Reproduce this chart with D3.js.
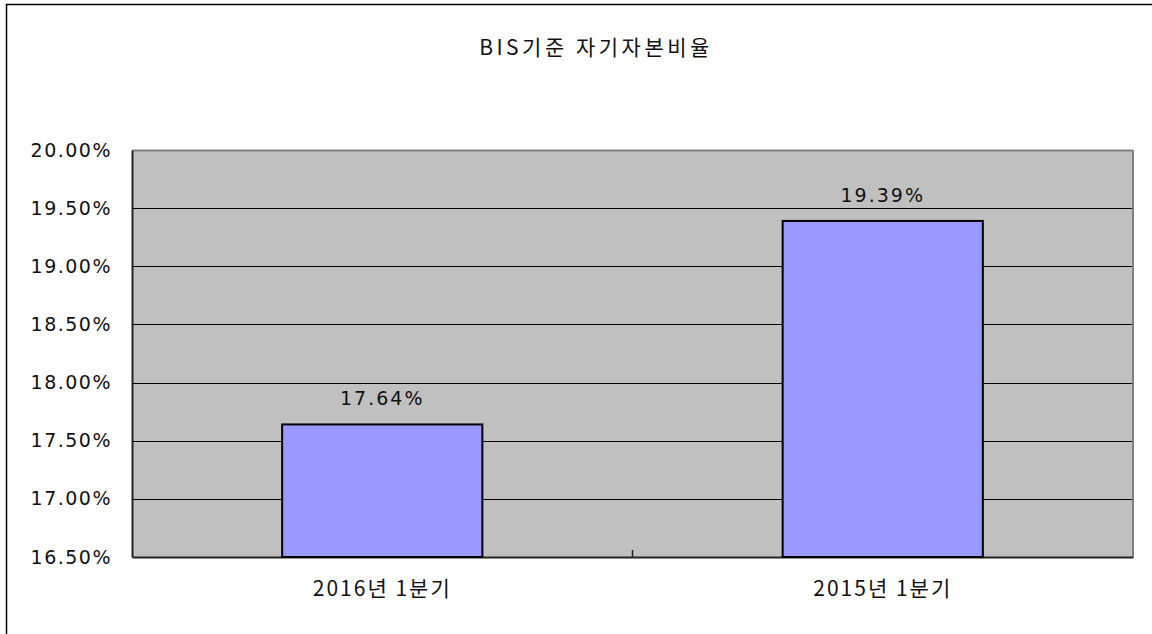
<!DOCTYPE html>
<html>
<head>
<meta charset="utf-8">
<script src="https://cdn.jsdelivr.net/npm/d3@7"></script>
<style>
	body { margin: 0; background: #fff; }
	svg text { font-family: "DejaVu Sans", "Noto Sans CJK KR", sans-serif; fill: #111; letter-spacing: 1.5px; }
	svg text.kr { font-family: "Noto Sans CJK KR", sans-serif; }
</style>
</head>
<body>
<div id="chart"></div>
<script>
const title = 'BIS기준 자기자본비율';
const categories = ['2016년 1분기', '2015년 1분기'];
const values = [17.64, 19.39];
const yTicks = [16.5, 17, 17.5, 18, 18.5, 19, 19.5, 20];

function drawChart() {
	const W = 1152, H = 634;
	const plot = { left: 132, top: 150, right: 1133, bottom: 557 };
	const fs = '19px';

	const svg = d3.select('#chart').append('svg').attr('width', W).attr('height', H);

	// outer frame
	svg.append('rect').attr('x', 6.5).attr('y', 4.5).attr('width', W).attr('height', H)
		.attr('fill', 'none').attr('stroke', '#000').attr('stroke-width', 1.5);

	svg.append('text').attr('class', 'kr').attr('x', 596).attr('y', 55).attr('text-anchor', 'middle')
		.style('font-size', '21px').style('letter-spacing', '3.5px').text(title);

	const xScale = d3.scaleBand().domain(categories).range([plot.left, plot.right]).paddingInner(0.6).paddingOuter(0.3);
	const yScale = d3.scaleLinear().domain([16.5, 20]).range([plot.bottom, plot.top]);

	svg.append('rect').attr('x', plot.left).attr('y', plot.top)
		.attr('width', plot.right - plot.left).attr('height', plot.bottom - plot.top)
		.attr('fill', '#c0c0c0');

	// gridlines
	svg.append('g').selectAll('line').data(yTicks.slice(1, -1)).enter().append('line')
		.attr('x1', plot.left).attr('x2', plot.right)
		.attr('y1', (d) => Math.round(yScale(d)) + 0.5).attr('y2', (d) => Math.round(yScale(d)) + 0.5)
		.attr('stroke', '#000').attr('stroke-width', 1);

	// plot border: top/right grey, left/bottom dark
	svg.append('line').attr('x1', plot.left).attr('x2', plot.right).attr('y1', plot.top + 0.5).attr('y2', plot.top + 0.5).attr('stroke', '#808080').attr('stroke-width', 2);
	svg.append('line').attr('x1', plot.right).attr('x2', plot.right).attr('y1', plot.top).attr('y2', plot.bottom).attr('stroke', '#808080').attr('stroke-width', 2);

	const yAxis = d3.axisLeft(yScale).tickValues(yTicks).tickSize(0).tickPadding(20)
		.tickFormat((d) => d.toFixed(2) + '%');
	const gy = svg.append('g').attr('transform', `translate(${plot.left},0)`).call(yAxis);
	gy.select('.domain').attr('stroke', '#222').attr('stroke-width', 2);
	gy.selectAll('text').style('font-size', fs).attr('fill', '#111').attr('font-family', null);

	const xAxis = d3.axisBottom(xScale).tickSize(0).tickPadding(24);
	const gx = svg.append('g').attr('transform', `translate(0,${plot.bottom})`).call(xAxis);
	gx.select('.domain').attr('stroke', '#222').attr('stroke-width', 2);
	gx.selectAll('text').attr('class', 'kr').style('font-size', '21px').style('letter-spacing', '2px')
		.attr('fill', '#111').attr('font-family', null);

	// category separator tick
	const sep = (xScale(categories[0]) + xScale.bandwidth() + xScale(categories[1])) / 2;
	svg.append('line').attr('x1', sep).attr('x2', sep).attr('y1', plot.bottom - 7).attr('y2', plot.bottom)
		.attr('stroke', '#222').attr('stroke-width', 1.5);

	svg.selectAll('.bar').data(values).enter().append('rect')
		.attr('class', 'bar')
		.attr('x', (d, i) => xScale(categories[i]))
		.attr('y', (d) => yScale(d))
		.attr('width', xScale.bandwidth())
		.attr('height', (d) => plot.bottom - yScale(d))
		.attr('fill', '#9999ff').attr('stroke', '#000').attr('stroke-width', 2);

	svg.selectAll('.label').data(values).enter().append('text')
		.attr('class', 'label')
		.attr('x', (d, i) => xScale(categories[i]) + xScale.bandwidth() / 2)
		.attr('y', (d) => yScale(d) - 19)
		.attr('text-anchor', 'middle')
		.style('font-size', fs)
		.style('letter-spacing', '2px')
		.text((d) => d.toFixed(2) + '%');
}

drawChart();
</script>
</body>
</html>
